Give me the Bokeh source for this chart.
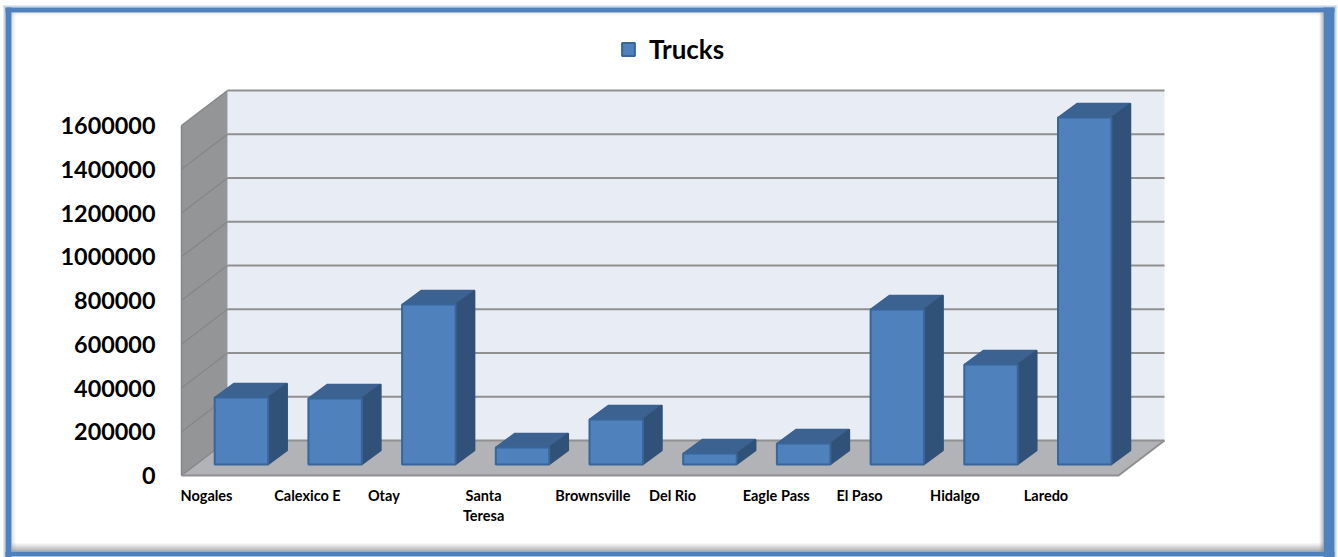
from bokeh.core.properties import value
from bokeh.embed import file_html
from bokeh.resources import INLINE
from bokeh.plotting import figure
from bokeh.models import (BoxAnnotation, FixedTicker, Legend, LegendItem, LinearAxis,
                          NumeralTickFormatter, Range1d)

# Annual truck crossings by port of entry
ports = ["Nogales", "Calexico E", "Otay", "Santa\nTeresa", "Brownsville",
         "Del Rio", "Eagle Pass", "El Paso", "Hidalgo", "Laredo"]
trucks = [306000, 302000, 731000, 78000, 206000, 50000, 96000, 709000, 457000, 1586000]
y_ticks = [0, 200000, 400000, 600000, 800000, 1000000, 1200000, 1400000, 1600000]
WRAPPED = "Santa\nTeresa"

# Pixel scale of the value and category axes; the plot frame fills the whole page
W, H = 1338, 557
PX_PER_CAT = 93.7
PX_PER_VAL = 350 / 1600000
AXIS_LEFT, AXIS_BOTTOM = 181, 475

def dx(px):
    return px / PX_PER_CAT

def dy(px):
    return px / PX_PER_VAL

x0 = -0.5 - dx(AXIS_LEFT)
y0 = -dy(H - AXIS_BOTTOM)

p = figure(width=W, height=H,
           x_range=Range1d(x0, x0 + dx(W)), y_range=Range1d(y0, y0 + dy(H)),
           x_axis_location=None, y_axis_location=None,
           min_border=0, output_backend="svg", toolbar_location=None)
p.outline_line_color = None
p.grid.visible = False
p.background_fill_color = "white"
p.border_fill_color = "white"

# 3-D box: floor, side wall and back wall, all offset by the same depth
n = len(ports)
depth_x, depth_y = dx(46), dy(35)
left, right, top = -0.5, n - 0.5, y_ticks[-1]
GRID = "#909090"

p.patch([left + depth_x, right + depth_x, right + depth_x, left + depth_x],
        [depth_y, depth_y, top + depth_y, top + depth_y], color="#e8ecf5", line_color=None)
p.patch([left, left + depth_x, left + depth_x, left],
        [0, depth_y, top + depth_y, top], color="#949597", line_color=None)
p.patch([left, right, right + depth_x, left + depth_x],
        [0, 0, depth_y, depth_y], color="#b1b3b6", line_color=None)

back_xs = [[left + depth_x, right + depth_x] for _ in y_ticks]
back_ys = [[v + depth_y, v + depth_y] for v in y_ticks]
p.multi_line(back_xs, back_ys, line_color=GRID, line_width=2)
side_xs = [[left, left + depth_x] for _ in y_ticks]
side_ys = [[v, v + depth_y] for v in y_ticks]
p.multi_line(side_xs, side_ys, line_color="#85878a", line_width=1.5)
p.line([left, left], [0, top], line_color="#85878a", line_width=1.5)
p.line([left, right, right + depth_x], [0, 0, depth_y], line_color=GRID, line_width=2)

# Bars: front face plus top and side faces pushed back by the bar depth
bar_w = dx(53.5)
bar_x = [i + dx(13.1) for i in range(n)]
base = dy(11)
bar_dx, bar_dy = dx(19), dy(14)

top_xs = [[c - bar_w / 2, c + bar_w / 2, c + bar_w / 2 + bar_dx, c - bar_w / 2 + bar_dx] for c in bar_x]
top_ys = [[v + base, v + base, v + base + bar_dy, v + base + bar_dy] for v in trucks]
p.patches(top_xs, top_ys, fill_color="#3b6291", line_color="#3b6291", line_width=1.5)

side_face_xs = [[c + bar_w / 2, c + bar_w / 2 + bar_dx, c + bar_w / 2 + bar_dx, c + bar_w / 2] for c in bar_x]
side_face_ys = [[base, base + bar_dy, v + base + bar_dy, v + base] for v in trucks]
p.patches(side_face_xs, side_face_ys, fill_color="#315278", line_color="#315278", line_width=1.5)

front = p.vbar(x=bar_x, width=bar_w, bottom=base, top=[v + base for v in trucks],
               fill_color="#4f81bd", line_color="#38659a", line_width=2)

# Value axis pinned to the front edge of the side wall
y_axis = LinearAxis(fixed_location=left, ticker=FixedTicker(ticks=y_ticks),
                    formatter=NumeralTickFormatter(format="0"),
                    axis_line_color=None, major_tick_line_color=None,
                    minor_tick_line_color=None, major_tick_out=0, major_tick_in=0,
                    major_label_standoff=26, major_label_text_font="Lato",
                    major_label_text_font_style="bold", major_label_text_font_size="23.4px",
                    major_label_text_color="black")
p.add_layout(y_axis, "left")

# Category names start at the left edge of their slot; a wrapped name is centred on itself
LABEL_FONT = dict(text_font=value("Lato"), text_font_style="bold", text_font_size="14.5px",
                  text_color="black", text_baseline="top", text_line_height=1.15)
label_shift = dx(-1)
single = [(i - 0.5 + label_shift, name) for i, name in enumerate(ports) if name != WRAPPED]
p.text(x=[s[0] for s in single], y=[-dy(11.5)] * len(single), text=[s[1] for s in single],
       text_align="left", **LABEL_FONT)
p.text(x=[ports.index(WRAPPED) - 0.5 + label_shift + dx(22)], y=[-dy(11.5)], text=[WRAPPED],
       text_align="center", **LABEL_FONT)

legend = Legend(items=[LegendItem(label="Trucks", renderers=[front])],
                location=(620, 492), orientation="horizontal",
                background_fill_alpha=0, border_line_color=None, margin=0, padding=0,
                glyph_width=16, glyph_height=16, label_standoff=13,
                label_text_font="Lato", label_text_font_style="bold",
                label_text_font_size="26px", label_text_color="black")
p.add_layout(legend)

# Picture frame around the whole chart: blue band with a soft inner shadow
def strip(l, r, t, b, color, alpha=1.0):
    p.add_layout(BoxAnnotation(left=l, right=r, top=t, bottom=b,
                               left_units="canvas", right_units="canvas",
                               top_units="canvas", bottom_units="canvas",
                               fill_color=color, fill_alpha=alpha, line_color=None,
                               level="overlay"))

for k, a in enumerate([0.55, 0.4, 0.25, 0.12]):
    strip(1323 - 1 - k, 1323 - k, 12, 551, "#808080", a)
    strip(11, 1323, 551 - 2 - 2 * k, 551 - 2 * k, "#707070", a)
    strip(11 + k, 12 + k, 12, 551, "#a0a0a0", a * 0.6)
    strip(11, 1323, 12 + k, 13 + k, "#a0a0a0", a * 0.3)

strip(3, 1336, 5, 7, "#c5d5ea")
strip(3, 5, 5, 557, "#c5d5ea")
strip(1334, 1336, 5, 557, "#c5d5ea")
strip(5, 11, 7, 557, "#4f81bd")
strip(1323, 1334, 7, 557, "#4f81bd")
strip(5, 1334, 7, 12, "#4f81bd")
strip(5, 1334, 551, 556, "#4f81bd")

open("out.html", "w").write(file_html(p, INLINE))
